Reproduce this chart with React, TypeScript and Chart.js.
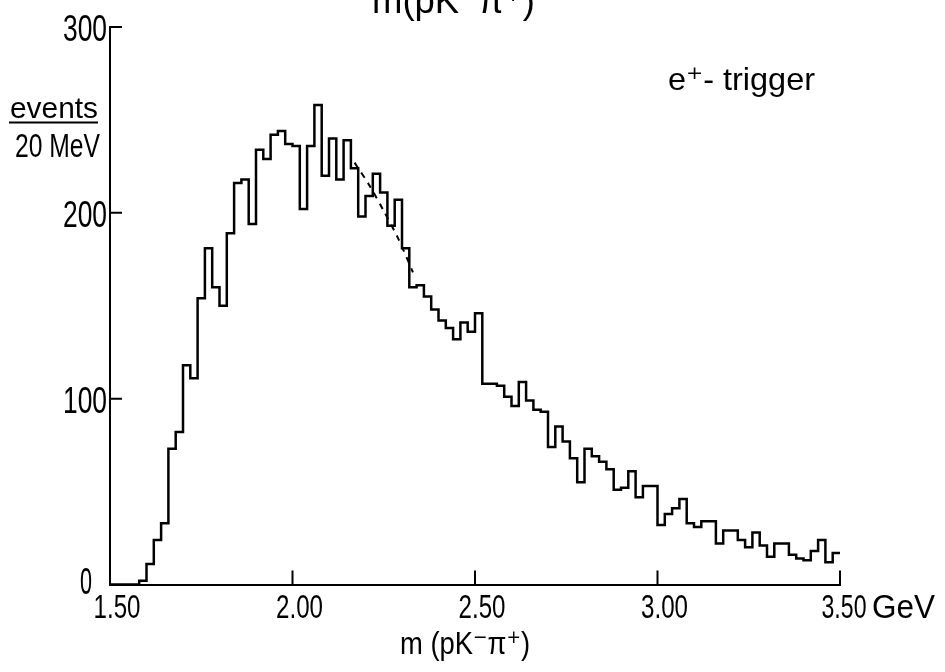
import React, { useEffect, useRef } from "react";
import { Chart, registerables } from "chart.js";

Chart.register(...registerables);

// Histogram: 20 MeV bins from 1.50 GeV to 3.50 GeV
const BIN_START = 1.5;
const BIN_WIDTH = 0.02;
const counts = [
  0, 0, 0, 0, 2, 11, 24, 33, 73, 82,
  118, 111, 154, 181, 160, 150, 189, 216, 218, 194,
  234, 229, 242, 244, 237, 236, 202, 236, 258, 220,
  240, 218, 239, 224, 198, 209, 221, 211, 193, 207,
  181, 160, 161, 155, 148, 142, 138, 132, 141, 136,
  146, 108, 108, 107, 101, 96, 109, 99, 94, 93,
  74, 85, 77, 68, 55, 73, 69, 66, 62, 51,
  52, 61, 47, 53, 53, 32, 38, 41, 46, 33,
  31, 34, 34, 22, 29, 29, 24, 20, 28, 21,
  15, 22, 22, 16, 14, 13, 18, 24, 12, 17,
];

// dashed curve drawn over the falling edge
const fitMass = [2.17, 2.21, 2.25, 2.29, 2.33];
const fitCounts = [227, 215, 201, 186, 168];

const xTicks = [1.5, 2.0, 2.5, 3.0, 3.5];
const yTicks = [0, 100, 200, 300];

const xTitle = "m (pK\u207B\u03C0\u207A)";
const topTitle = "m(pK\u207B\u03C0\u207A)";
const yLabelTop = "events";
const yLabelBottom = "20 MeV";
const triggerLabel = "e\u207A- trigger";
const unitLabel = "GeV";

const FONT = "'Liberation Sans', 'DejaVu Sans', sans-serif";

// draws real text squeezed horizontally into [left, right]
function fitText(ctx: CanvasRenderingContext2D, text: string, left: number, right: number, baseline: number, size: number) {
  ctx.save();
  ctx.font = `${size}px ${FONT}`;
  ctx.textAlign = "left";
  ctx.textBaseline = "alphabetic";
  const w = ctx.measureText(text).width || 1;
  ctx.translate(left, baseline);
  ctx.scale((right - left) / w, 1);
  ctx.fillStyle = "#000";
  ctx.fillText(text, 0, 0);
  ctx.restore();
}

const decorPlugin = {
  id: "decor",
  afterDraw(chart: any) {
    const { ctx, chartArea } = chart;
    const x = chart.scales.x;
    const y = chart.scales.y;
    ctx.save();
    ctx.strokeStyle = "#000";
    ctx.lineWidth = 2;
    ctx.beginPath();
    xTicks.slice(1).forEach((v) => {
      const px = x.getPixelForValue(v);
      ctx.moveTo(px, chartArea.bottom);
      ctx.lineTo(px, chartArea.bottom - 14);
    });
    yTicks.slice(1).forEach((v) => {
      const py = y.getPixelForValue(v);
      ctx.moveTo(chartArea.left, py);
      ctx.lineTo(chartArea.left + 12, py);
    });
    ctx.stroke();
    ctx.restore();

    // x tick labels
    xTicks.forEach((v, i) => {
      const last = i === xTicks.length - 1;
      const px = x.getPixelForValue(v) + (last ? 4 : 7);
      const half = last ? 22.5 : 23.5;
      fitText(ctx, v.toFixed(2), px - half, px + half, chartArea.bottom + 33, 33);
    });
    // y tick labels
    yTicks.forEach((v) => {
      const py = y.getPixelForValue(v);
      if (v === 0) {
        fitText(ctx, String(v), 80, 92, py + 9, 36);
      } else {
        fitText(ctx, String(v), 63, 107, py + 14, 37);
      }
    });

    // unit after last tick label
    const p35 = x.getPixelForValue(3.5);
    fitText(ctx, unitLabel, p35 + 32, p35 + 95, chartArea.bottom + 33, 33);

    // x axis title
    fitText(ctx, xTitle, 400, 530, chartArea.bottom + 69, 32);

    // cut-off title at top
    fitText(ctx, topTitle, 372, 535, 13, 36);

    // y label
    fitText(ctx, yLabelTop, 10, 98, 118, 30);
    ctx.save();
    ctx.strokeStyle = "#000";
    ctx.lineWidth = 2;
    ctx.beginPath();
    ctx.moveTo(9, 122.5);
    ctx.lineTo(98, 122.5);
    ctx.stroke();
    ctx.restore();
    fitText(ctx, yLabelBottom, 15, 100, 157, 34);

    // trigger label
    fitText(ctx, triggerLabel, 668, 815, 90, 32);
  },
};

export default function App() {
  const ref = useRef<HTMLCanvasElement | null>(null);

  useEffect(() => {
    document.body.style.margin = "0";
    const canvas = ref.current;
    if (!canvas) return;

    const histPoints = counts.map((c, i) => ({ x: BIN_START + i * BIN_WIDTH, y: c }));
    histPoints.push({ x: BIN_START + counts.length * BIN_WIDTH, y: counts[counts.length - 1] });
    const fitPoints = fitMass.map((m, i) => ({ x: m, y: fitCounts[i] }));

    const chart = new Chart(canvas, {
      type: "line",
      data: {
        datasets: [
          {
            data: histPoints,
            stepped: true,
            borderColor: "#000",
            borderWidth: 2.5,
            pointRadius: 0,
            fill: false,
          },
          {
            data: fitPoints,
            borderColor: "#000",
            borderWidth: 2,
            borderDash: [6, 6],
            pointRadius: 0,
            fill: false,
            tension: 0.3,
          },
        ],
      },
      options: {
        animation: false,
        responsive: false,
        events: [],
        layout: { padding: { top: 27, right: 105, left: 0, bottom: 0 } },
        plugins: {
          legend: { display: false },
          tooltip: { enabled: false },
          title: { display: false },
        },
        scales: {
          x: {
            type: "linear",
            min: 1.5,
            max: 3.5,
            afterBuildTicks: (s: any) => {
              s.ticks = xTicks.map((v) => ({ value: v }));
            },
            afterFit: (s: any) => {
              s.height = 87.5;
            },
            grid: { display: false, drawTicks: false },
            border: { display: true, color: "#000", width: 2 },
            ticks: { display: false },
          },
          y: {
            type: "linear",
            min: 0,
            max: 300,
            afterBuildTicks: (s: any) => {
              s.ticks = yTicks.map((v) => ({ value: v }));
            },
            afterFit: (s: any) => {
              s.width = 110;
            },
            grid: { display: false, drawTicks: false },
            border: { display: true, color: "#000", width: 2 },
            ticks: { display: false },
          },
        },
      },
      plugins: [decorPlugin],
    });

    return () => chart.destroy();
  }, []);

  return <canvas ref={ref} width={945} height={672} style={{ display: "block" }} />;
}
